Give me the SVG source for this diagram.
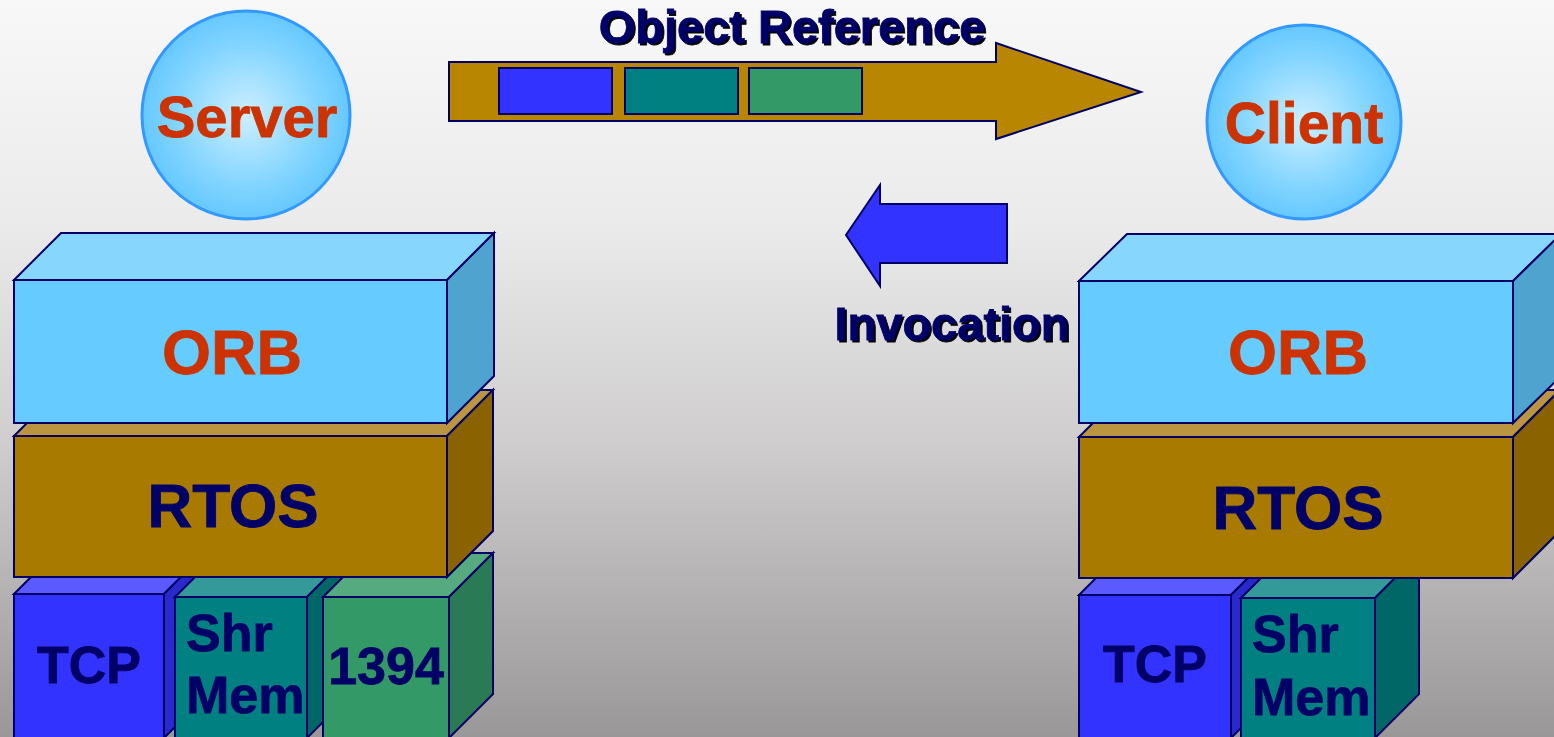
<svg xmlns="http://www.w3.org/2000/svg" width="1554" height="737" viewBox="0 0 1554 737">
<defs>
<linearGradient id="bg" x1="0" y1="0" x2="0" y2="1">
<stop offset="0" stop-color="#f8f8f8"/>
<stop offset="0.3" stop-color="#ebebeb"/>
<stop offset="0.6" stop-color="#cfcdcd"/>
<stop offset="1" stop-color="#999797"/>
</linearGradient>
<radialGradient id="ball" cx="0.5" cy="0.5" r="0.5">
<stop offset="0" stop-color="#cdefff"/>
<stop offset="0.7" stop-color="#80d4ff"/>
<stop offset="1" stop-color="#66c8ff"/>
</radialGradient>
<filter id="shadow" x="-5%" y="-10%" width="115%" height="130%">
<feDropShadow dx="2" dy="2" stdDeviation="0.4" flood-color="#000000" flood-opacity="1"/>
</filter>
<style>
.s{stroke:#000066;stroke-width:2;stroke-linejoin:miter}
.t{font-family:"Liberation Sans",Arial,sans-serif;font-weight:bold;stroke-width:0.8}
.navy{fill:#000066;stroke:#000066}
.red{fill:#cc3300;stroke:#cc3300}
.orbF{fill:#66ccff}.orbT{fill:#87d6fe}.orbR{fill:#4fa3cf}
.rtF{fill:#a87a00}.rtT{fill:#bb9540}.rtR{fill:#8a6300}
.tcpF{fill:#3333ff}.tcpT{fill:#5a5aff}.tcpR{fill:#2a2acc}
.shF{fill:#008080}.shT{fill:#339999}.shR{fill:#006666}
.fwF{fill:#339966}.fwT{fill:#55aa80}.fwR{fill:#2a7a55}
.ball{fill:url(#ball);stroke:#3399ff;stroke-width:3}
</style>
</defs>
<rect x="0" y="0" width="1554" height="737" fill="url(#bg)"/>

<g id="server">
<circle class="ball" cx="246" cy="115" r="104"/>
<text class="t red" x="247" y="137" font-size="58" text-anchor="middle">Server</text>
</g>
<g id="client">
<circle class="ball" cx="1304" cy="122" r="97"/>
<text class="t red" x="1304" y="143" font-size="57" text-anchor="middle">Client</text>
</g>

<g id="left-tcp">
<polygon class="s tcpT" points="14,594 60,548 210,548 164,594"/>
<polygon class="s tcpR" points="164,594 210,548 210,692 164,738"/>
<rect class="s tcpF" x="14" y="594" width="150" height="144"/>
<text class="t navy" x="89" y="683" font-size="52" text-anchor="middle">TCP</text>
</g>
<g id="left-shrmem">
<polygon class="s shT" points="175,597 221,551 353,551 307,597"/>
<polygon class="s shR" points="307,597 353,551 353,692 307,738"/>
<rect class="s shF" x="175" y="597" width="132" height="141"/>
<text class="t navy" x="186" y="651" font-size="52">Shr</text>
<text class="t navy" x="186" y="713" font-size="52">Mem</text>
</g>
<g id="left-1394">
<polygon class="s fwT" points="323,597 367,553 493,553 449,597"/>
<polygon class="s fwR" points="449,597 493,553 493,694 449,738"/>
<rect class="s fwF" x="323" y="597" width="126" height="141"/>
<text class="t navy" x="386" y="684" font-size="52" text-anchor="middle">1394</text>
</g>
<g id="left-rtos">
<polygon class="s rtT" points="14,436 60,390 493,390 447,436"/>
<polygon class="s rtR" points="447,436 493,390 493,531 447,577"/>
<rect class="s rtF" x="14" y="436" width="433" height="141"/>
<text class="t navy" x="233" y="527" font-size="62" text-anchor="middle">RTOS</text>
</g>
<g id="left-orb">
<polygon class="s orbT" points="14,280 61,233 494,233 447,280"/>
<polygon class="s orbR" points="447,280 494,233 494,376 447,423"/>
<rect class="s orbF" x="14" y="280" width="433" height="143"/>
<text class="t red" x="232" y="374" font-size="63" text-anchor="middle">ORB</text>
</g>

<g id="right-tcp">
<polygon class="s tcpT" points="1079,595 1125,549 1277,549 1231,595"/>
<polygon class="s tcpR" points="1231,595 1277,549 1277,692 1231,738"/>
<rect class="s tcpF" x="1079" y="595" width="152" height="143"/>
<text class="t navy" x="1155" y="682" font-size="52" text-anchor="middle">TCP</text>
</g>
<g id="right-shrmem">
<polygon class="s shT" points="1241,598 1285,554 1419,554 1375,598"/>
<polygon class="s shR" points="1375,598 1419,554 1419,694 1375,738"/>
<rect class="s shF" x="1241" y="598" width="134" height="140"/>
<text class="t navy" x="1252" y="652" font-size="52">Shr</text>
<text class="t navy" x="1252" y="715" font-size="52">Mem</text>
</g>
<g id="right-rtos">
<polygon class="s rtT" points="1079,437 1126,390 1560,390 1513,437"/>
<polygon class="s rtR" points="1513,437 1560,390 1560,531 1513,578"/>
<rect class="s rtF" x="1079" y="437" width="434" height="141"/>
<text class="t navy" x="1298" y="529" font-size="62" text-anchor="middle">RTOS</text>
</g>
<g id="right-orb">
<polygon class="s orbT" points="1079,281 1127,234 1561,234 1513,281"/>
<polygon class="s orbR" points="1513,281 1561,234 1561,376 1513,423"/>
<rect class="s orbF" x="1079" y="281" width="434" height="142"/>
<text class="t red" x="1298" y="374" font-size="63" text-anchor="middle">ORB</text>
</g>

<g id="connectors">
<g id="object-reference">
<polygon class="s" fill="#b88600" points="449,62 996,62 996,43 1141,92 996,139 996,121 449,121"/>
<rect class="s" fill="#3333ff" x="499" y="68" width="113" height="46"/>
<rect class="s" fill="#008080" x="625" y="68" width="113" height="46"/>
<rect class="s" fill="#339966" x="749" y="68" width="113" height="46"/>
<text class="t navy" x="792" y="43" font-size="47" text-anchor="middle" filter="url(#shadow)">Object Reference</text>
</g>
<g id="invocation">
<polygon class="s" fill="#3333ff" points="1007,204 1007,263 880,263 880,286 846,235 880,185 880,204"/>
<text class="t navy" x="952" y="340" font-size="47" text-anchor="middle" filter="url(#shadow)">Invocation</text>
</g>
</g>
</svg>
